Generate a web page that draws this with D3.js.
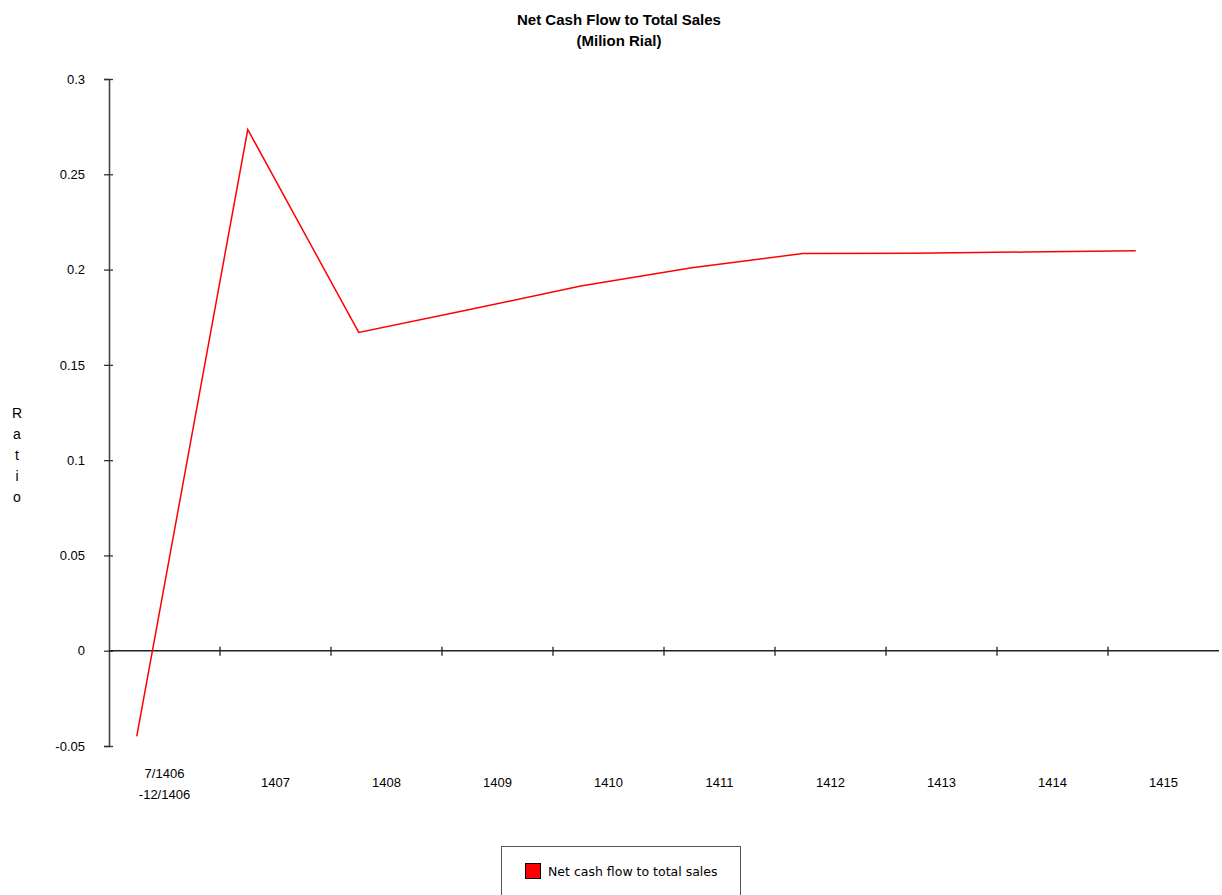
<!DOCTYPE html>
<html>
<head>
<meta charset="utf-8">
<script src="https://cdn.jsdelivr.net/npm/d3@7"></script>
<style>
  body { margin: 0; background: #fff; }
  svg { display: block; }
</style>
</head>
<body>
<svg id="chart" width="1222" height="895"></svg>
<script>
// data
const categories = ["7/1406\n-12/1406", "1407", "1408", "1409", "1410", "1411", "1412", "1413", "1414", "1415"];
const ratioValues = [-0.045, 0.2735, 0.167, 0.179, 0.1914, 0.201, 0.2084, 0.2086, 0.2092, 0.2099];
const yTicks = [-0.05, 0, 0.05, 0.1, 0.15, 0.2, 0.25, 0.3];
const seriesName = "Net cash flow to total sales";
const titleLines = ["Net Cash Flow to Total Sales", "(Milion Rial)"];
const yLabel = "Ratio";

const font_family = "Arial, 'Liberation Sans', sans-serif";
const svg = d3.select("#chart");

const plot = { left: 109, right: 1219, top: 79, bottom: 746 };

// X Scale
const x = d3.scaleBand()
    .domain(categories)
    .range([plot.left, plot.right])
    .padding(0);

// Y Scale
const y = d3.scaleLinear()
    .domain([-0.05, 0.3])
    .range([plot.bottom, plot.top]);

// Title
svg.append("g")
    .selectAll("text")
    .data(titleLines)
    .enter()
    .append("text")
    .attr("x", 619)
    .attr("y", (d, i) => 25 + i * 21)
    .attr("text-anchor", "middle")
    .attr("font-family", font_family)
    .attr("font-size", 15)
    .attr("font-weight", "bold")
    .attr("fill", "#000")
    .text(d => d);

// Y Axis
const yAxis = svg.append("g")
    .attr("transform", `translate(${plot.left},0)`)
    .call(d3.axisLeft(y).tickValues(yTicks).tickSize(5).tickPadding(19).tickFormat(d => String(+d.toFixed(2))));
yAxis.select(".domain").attr("stroke", "#444").attr("stroke-width", 1.6);
yAxis.selectAll(".tick line").attr("stroke", "#333").attr("stroke-width", 1.3);
yAxis.selectAll(".tick").append("line").attr("x2", 4).attr("stroke", "#333").attr("stroke-width", 1.3);
yAxis.selectAll("text")
    .attr("font-family", font_family)
    .attr("font-size", 13)
    .attr("fill", "#000");

// Y Axis Label, stacked letters
svg.append("g")
    .selectAll("text")
    .data(yLabel.split(""))
    .enter()
    .append("text")
    .attr("x", 17)
    .attr("y", (d, i) => 418 + i * 21)
    .attr("text-anchor", "middle")
    .attr("font-family", font_family)
    .attr("font-size", 14)
    .attr("fill", "#000")
    .text(d => d);

// X Axis line at zero with boundary ticks
const xAxis = svg.append("g");
xAxis.append("line")
    .attr("x1", plot.left)
    .attr("x2", plot.right)
    .attr("y1", y(0))
    .attr("y2", y(0))
    .attr("stroke", "#222")
    .attr("stroke-width", 1.6);
xAxis.selectAll(".xtick")
    .data(categories.slice(1))
    .enter()
    .append("line")
    .attr("class", "xtick")
    .attr("x1", d => x(d))
    .attr("x2", d => x(d))
    .attr("y1", y(0) - 4)
    .attr("y2", y(0) + 5)
    .attr("stroke", "#222")
    .attr("stroke-width", 1.3);

// X labels below plot
const xLabels = svg.append("g")
    .selectAll("text")
    .data(categories)
    .enter()
    .append("text")
    .attr("text-anchor", "middle")
    .attr("font-family", font_family)
    .attr("font-size", 13)
    .attr("fill", "#000");
xLabels.each(function (d) {
    const lines = d.split("\n");
    const cx = x(d) + x.bandwidth() / 2;
    const startY = lines.length > 1 ? 778 : 787;
    d3.select(this).selectAll("tspan")
        .data(lines)
        .enter()
        .append("tspan")
        .attr("x", cx)
        .attr("y", (l, i) => startY + i * 21)
        .text(l => l);
});

// Line
const line = d3.line()
    .x((d, i) => x(categories[i]) + x.bandwidth() * 0.25)
    .y(d => y(d));

svg.append("path")
    .datum(ratioValues)
    .attr("d", line)
    .attr("fill", "none")
    .attr("stroke", "#ff0000")
    .attr("stroke-width", 1.5);

// Legend
const legend = svg.append("g");
legend.append("rect")
    .attr("x", 501.5)
    .attr("y", 846.5)
    .attr("width", 239)
    .attr("height", 60)
    .attr("fill", "#fff")
    .attr("stroke", "#555")
    .attr("stroke-width", 1);
legend.append("rect")
    .attr("x", 525.5)
    .attr("y", 863.5)
    .attr("width", 15)
    .attr("height", 15)
    .attr("fill", "#ff0000")
    .attr("stroke", "#000")
    .attr("stroke-width", 1);
legend.append("text")
    .attr("x", 548)
    .attr("y", 876)
    .attr("font-family", "'DejaVu Sans', Verdana, sans-serif")
    .attr("font-size", 12.5)
    .attr("fill", "#000")
    .text(seriesName);
</script>
</body>
</html>
